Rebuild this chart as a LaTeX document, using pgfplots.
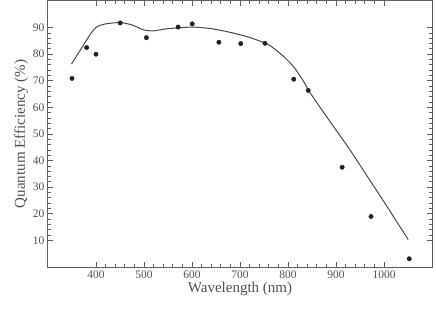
\documentclass[border=0pt]{standalone}
\usepackage{pgfplots}
\pgfplotsset{compat=1.18}
\usepackage{fontspec}
\setmainfont{Liberation Serif}
\definecolor{txt}{HTML}{505050}
\definecolor{ax}{HTML}{606060}
\definecolor{ln}{HTML}{4A4A4A}
\definecolor{pt}{HTML}{222222}
\begin{document}
\begin{tikzpicture}
\useasboundingbox (-48pt,-41pt) rectangle (388pt,267pt);
\begin{axis}[
  at={(0,0)}, anchor=south west,
  scale only axis, width=384pt, height=266pt,
  xmin=300, xmax=1100, ymin=0, ymax=100,
  xtick={400,500,...,1000}, ytick={10,20,...,90},
  minor x tick num=4, minor y tick num=4,
  tick align=inside,
  major tick length=5pt, minor tick length=3pt,
  axis line style={ax, line width=1pt},
  every tick/.style={ax, line width=0.8pt},
  tick label style={font=\fontsize{11.5}{12}\selectfont, text=txt},
  /pgf/number format/assume math mode=true,
  /pgf/number format/1000 sep={},
  xlabel={Wavelength (nm)}, ylabel={Quantum Efficiency (\%)},
  label style={font=\fontsize{15}{17}\selectfont, text=txt},
  xlabel style={yshift=3pt},
  ylabel style={yshift=-2pt},
  clip=false,
]
\addplot[ln, line width=1pt, smooth, tension=0.4] coordinates {
(349,76.3) (370,82.3) (390,88) (402,90.3) (420,91.4) (450,91.9)
(475,91) (500,89.1) (520,88.8) (550,89.6) (600,90.2)
(640,89.6) (680,88.2) (720,86.3) (760,83.5) (790,79.3) (812,75.2)
(830,70.5) (845,65.8) (870,59.2) (900,51.5) (930,43.8) (960,35.5)
(1000,24.5) (1050.4,10.3)
};
\addplot[only marks, mark=*, mark size=2.2pt, pt] coordinates {
(350,70.9) (380.5,82.5) (400,80) (450.4,91.75) (505,86.2) (571,90.2)
(600.5,91.4) (656,84.5) (701.7,84) (752,84.1) (812,70.6) (842,66.4)
(912.8,37.5) (973,19) (1052.5,3.1)
};
\end{axis}
\end{tikzpicture}
\end{document}
